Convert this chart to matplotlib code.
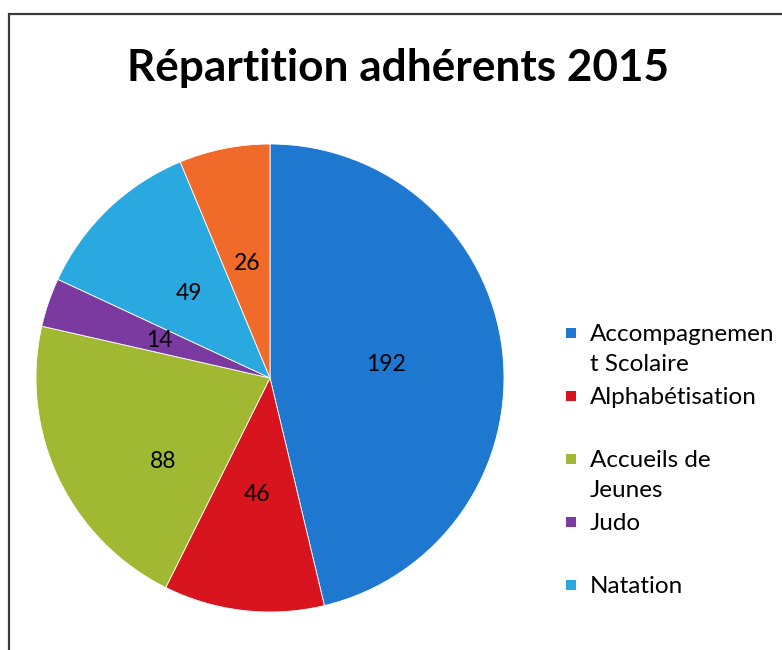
import numpy as np
import matplotlib
matplotlib.use("Agg")
import matplotlib.pyplot as plt
from matplotlib.patches import Rectangle

title = "Répartition adhérents 2015"
categories = ["Accompagnement Scolaire", "Alphabétisation", "Accueils de Jeunes", "Judo", "Natation", "Autres"]
values = [192, 46, 88, 14, 49, 26]
colors = ["#1f78d0", "#d8141e", "#a0b832", "#7a3aa0", "#2aa8e0", "#f06a2a"]
legend_labels = ["Accompagnemen\nt Scolaire", "Alphabétisation", "Accueils de\nJeunes", "Judo", "Natation"]

W, H = 782, 650
fig = plt.figure(figsize=(W / 100, H / 100), dpi=100)
fig.patch.set_facecolor("white")

# frame
fig.patches.append(Rectangle((9 / W, -0.05), 1.2, 1 - 14 / H + 0.05, transform=fig.transFigure,
                             fill=False, edgecolor="#3a3a3a", linewidth=1.6))

fig.text(398 / W, 1 - 68 / H, title, ha="center", va="center", fontsize=31.8,
         fontweight="bold", family="Lato", color="black")

cx, cy, r = 270, 378, 234
ax = fig.add_axes([(cx - r) / W, 1 - (cy + r) / H, 2 * r / W, 2 * r / H])
wedges, texts, autotexts = ax.pie(values, colors=colors, startangle=90, counterclock=False,
                                  autopct=lambda p: f"{p * sum(values) / 100:.0f}",
                                  pctdistance=0.5, labels=None,
                                  wedgeprops=dict(linewidth=0.6, edgecolor="white"),
                                  textprops=dict(fontsize=16.5, family="Lato", color="black"))
ax.set_aspect("auto")
ax.set_xlim(-1, 1)
ax.set_ylim(-1, 1)
# Excel best-fit placement for the green slice label
autotexts[2].set_position((0.58 * np.cos(np.radians(-142)), 0.58 * np.sin(np.radians(-142))))

# legend (manual, Excel style slots)
slot = 63
for i, (lab, col) in enumerate(zip(legend_labels, colors)):
    y = 333 + i * slot
    fig.patches.append(Rectangle((566 / W, 1 - (y + 5) / H), 10 / W, 10 / H, transform=fig.transFigure,
                                 facecolor=col, edgecolor="none"))
    fig.text(590 / W, 1 - (y - 9) / H, lab, ha="left", va="top", fontsize=17.5, family="Lato",
             linespacing=1.55, color="black")

fig.savefig("out.png", dpi=100)
